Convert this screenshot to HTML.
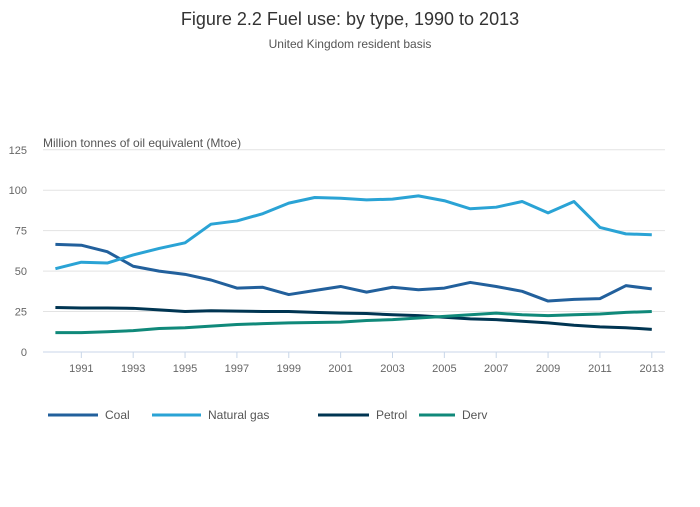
<!DOCTYPE html>
<html><head><meta charset="utf-8"><style>
body{margin:0;background:#fff;font-family:"Liberation Sans",sans-serif;}
svg text{font-family:"Liberation Sans",sans-serif;}
</style></head><body>
<svg width="700" height="502" id="chart">
<text x="350" y="25" text-anchor="middle" font-size="18" fill="#333">Figure 2.2 Fuel use: by type, 1990 to 2013</text>
<text x="350" y="48" text-anchor="middle" font-size="12" fill="#555">United Kingdom resident basis</text>
<text x="43" y="147" font-size="12" fill="#555">Million tonnes of oil equivalent (Mtoe)</text>
<g id="grid"></g><g id="series"></g><g id="legend"></g>
</svg>
<script>
const years=[1990,1991,1992,1993,1994,1995,1996,1997,1998,1999,2000,2001,2002,2003,2004,2005,2006,2007,2008,2009,2010,2011,2012,2013];
const coal=[66.5,66,62,53,50,48,44.5,39.5,40,35.5,38,40.5,37,40,38.5,39.5,43,40.5,37.5,31.5,32.5,33,41,39];
const gas=[51.5,55.5,55,60,64,67.5,79,81,85.5,92,95.5,95,94,94.5,96.5,93.5,88.5,89.5,93,86,93,77,73,72.5];
const petrol=[27.5,27.2,27.2,27,26,25,25.5,25.3,25,25,24.5,24,23.8,23,22.5,21.5,20.5,20,19,18,16.5,15.5,15,14];
const derv=[12,12,12.5,13.2,14.5,15,16,17,17.5,18,18.2,18.5,19.5,20,21,22,23,24,23,22.5,23,23.5,24.5,25];
const yTicks=[0,25,50,75,100,125];
const xTicks=[1991,1993,1995,1997,1999,2001,2003,2005,2007,2009,2011,2013];
const NS='http://www.w3.org/2000/svg';
const X=y=>55.4+(y-1990)*25.93;
const Y=v=>352-v*1.618;
function mk(t,a,p){const e=document.createElementNS(NS,t);for(const k in a)e.setAttribute(k,a[k]);p.appendChild(e);return e;}
const grid=document.getElementById('grid');
yTicks.forEach(v=>{
 const l=mk('line',{x1:43,x2:665,y1:Y(v),y2:Y(v),stroke:v===0?'#c8d6e8':'#e3e3e3','stroke-width':1},grid);
 
 
 const t=mk('text',{x:27,y:Y(v)+4,'text-anchor':'end','font-size':11,fill:'#666'},grid);
 t.textContent=v;
 
 
});
xTicks.forEach(y=>{
 const l=mk('line',{x1:X(y),x2:X(y),y1:352,y2:358,stroke:'#c8d6e8'},grid);
 
 
 const t=mk('text',{x:X(y),y:372,'text-anchor':'middle','font-size':11,fill:'#666'},grid);
 t.textContent=y;
 
 
});
const ser=[['Coal',coal,'#22609c',48,105],['Natural gas',gas,'#2aa3d5',152,208],['Petrol',petrol,'#003552',318,376],['Derv',derv,'#10897a',419,462]];
const sg=document.getElementById('series'),lg=document.getElementById('legend');
ser.forEach(([n,d,c,lx,tx])=>{
 const p=mk('polyline',{points:d.map((v,i)=>X(years[i])+','+Y(v)).join(' '),fill:'none',stroke:c,'stroke-width':3,'stroke-linejoin':'round'},sg);
 
 
 const l=mk('line',{x1:lx,x2:tx-7,y1:415,y2:415,stroke:c,'stroke-width':3},lg);
 
 
 const t=mk('text',{x:tx,y:419,'font-size':12,fill:'#555'},lg);
 t.textContent=n;
 
 
});
</script>
</body></html>
